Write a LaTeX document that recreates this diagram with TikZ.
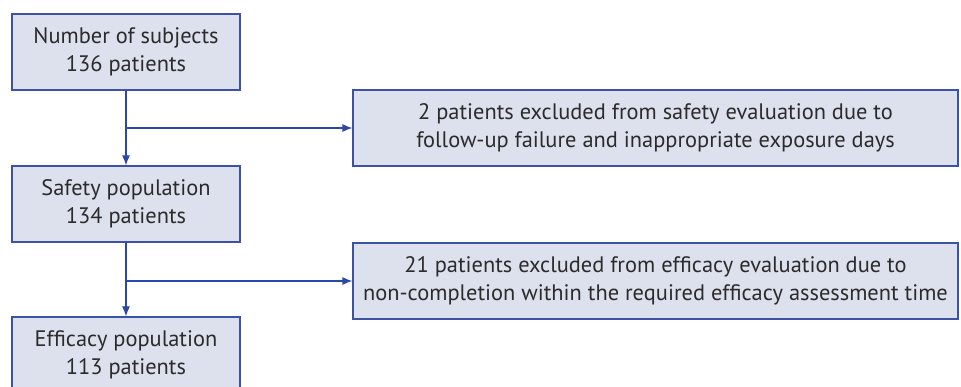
\documentclass[tikz,border=0pt]{standalone}
\usepackage{fontspec}
\setmainfont{PT Sans}
\usetikzlibrary{arrows.meta}
\definecolor{boxfill}{HTML}{DDE1EE}
\definecolor{boxline}{HTML}{3C52A2}
\definecolor{arrline}{HTML}{2B47A8}
\definecolor{txtgray}{HTML}{2B2B2B}
\tikzstyle{popbox} = [rectangle,
minimum width=228pt,
minimum height=76pt,
text centered,
align=center,
fill=boxfill,
draw=boxline,
line width=1.2pt,
text=txtgray,
font=\fontsize{22.4}{28.5}\selectfont]
\tikzstyle{exclbox} = [popbox, minimum width=605pt]
\tikzstyle{flowarrow} = [draw=arrline, line width=1.2pt, -{Latex[length=10pt, width=8pt]}]

\begin{document}
\begin{tikzpicture}[x=1pt, y=-1pt, node distance=152pt]
		\useasboundingbox (0,0) rectangle (961,387);
		\clip (0,0) rectangle (961,387);
		\node (subj) [popbox] at (126,52) {Number of subjects\\136 patients};
		\node (safety) [popbox, below of=subj] {Safety population\\134 patients};
		\node (efficacy) [popbox, below of=safety, yshift=1pt] {Efficacy population\\113 patients};
		\node (exclsafe) [exclbox] at (655.5,128) {2 patients excluded from safety evaluation due to\\follow-up failure and inappropriate exposure days};
		\node (exclefficacy) [exclbox] at (655.5,281) {21 patients excluded from efficacy evaluation due to\\non-completion within the required efficacy assessment time};

		\draw [flowarrow] (subj) -- (safety);
		\draw [flowarrow] (subj.south |- exclsafe.west) -- (exclsafe);
		\draw [flowarrow] (safety) -- (efficacy);
		\draw [flowarrow] (safety.south |- exclefficacy.west) -- (exclefficacy);
	\end{tikzpicture}
\end{document}
